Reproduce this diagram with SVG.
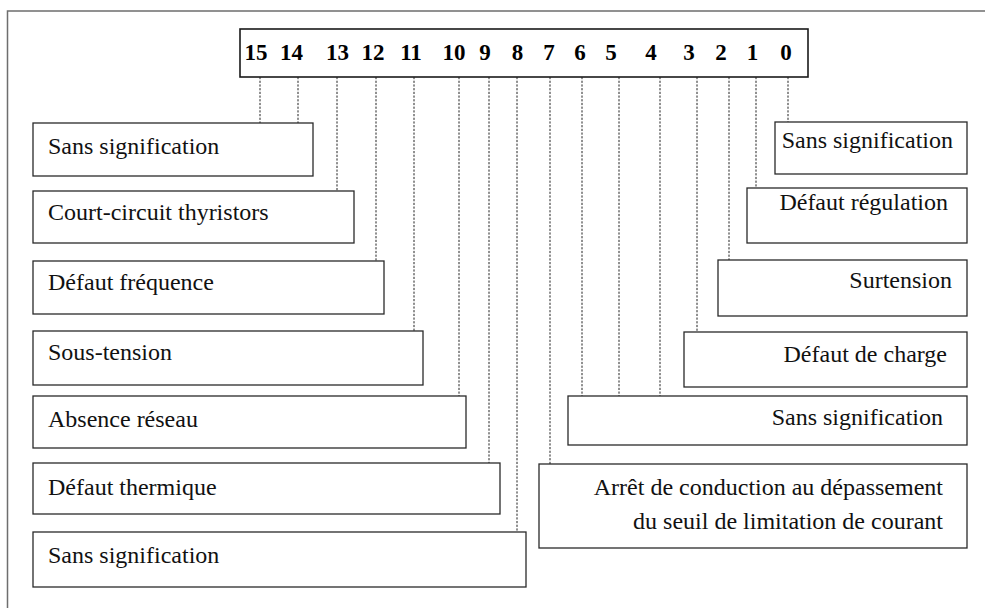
<svg xmlns="http://www.w3.org/2000/svg" width="985" height="608" viewBox="0 0 985 608">
<style>
.frame{fill:none;stroke:#6e6e6e;stroke-width:1.5}
.box{fill:#fff;stroke:#2a2a2a;stroke-width:1.3}
.reg{fill:#fff;stroke:#1a1a1a;stroke-width:1.6}
.bit{font-family:"Liberation Serif","Times New Roman",serif;font-weight:bold;font-size:23px;fill:#000;text-anchor:middle}
.lbl{font-family:"Liberation Serif","Times New Roman",serif;font-size:24px;fill:#111}
.r{text-anchor:end}
.dash{stroke:#222;stroke-width:1;stroke-dasharray:2.2 1.5;fill:none}
</style>
<rect x="0" y="0" width="985" height="608" fill="#fff"/>
<path class="frame" d="M986 11 H7.5 V609"/>

<g id="register">
<rect class="reg" x="240" y="29" width="568" height="48"/>
<text class="bit" y="60"><tspan x="256">15</tspan><tspan x="291.5">14</tspan><tspan x="337.5">13</tspan><tspan x="373">12</tspan><tspan x="411">11</tspan><tspan x="454">10</tspan><tspan x="485">9</tspan><tspan x="517.5">8</tspan><tspan x="549">7</tspan><tspan x="580">6</tspan><tspan x="611">5</tspan><tspan x="651">4</tspan><tspan x="689">3</tspan><tspan x="721">2</tspan><tspan x="752.5">1</tspan><tspan x="786">0</tspan></text>
</g>

<g id="connectors">
<line class="dash" x1="260" y1="77" x2="260" y2="123"/>
<line class="dash" x1="298" y1="77" x2="298" y2="123"/>
<line class="dash" x1="337" y1="77" x2="337" y2="191"/>
<line class="dash" x1="376" y1="77" x2="376" y2="261"/>
<line class="dash" x1="414" y1="77" x2="414" y2="331"/>
<line class="dash" x1="459" y1="77" x2="459" y2="396"/>
<line class="dash" x1="489" y1="77" x2="489" y2="463"/>
<line class="dash" x1="517" y1="77" x2="517" y2="532"/>
<line class="dash" x1="550" y1="77" x2="550" y2="464"/>
<line class="dash" x1="582" y1="77" x2="582" y2="396"/>
<line class="dash" x1="619" y1="77" x2="619" y2="396"/>
<line class="dash" x1="660" y1="77" x2="660" y2="396"/>
<line class="dash" x1="697" y1="77" x2="697" y2="332"/>
<line class="dash" x1="729" y1="77" x2="729" y2="260"/>
<line class="dash" x1="756" y1="77" x2="756" y2="188"/>
<line class="dash" x1="788" y1="77" x2="788" y2="122"/>
</g>

<g id="bits-15-14">
<rect class="box" x="33" y="123" width="280" height="53"/>
<text class="lbl" x="48" y="154">Sans signification</text>
</g>
<g id="bit-13">
<rect class="box" x="33" y="191" width="321" height="52"/>
<text class="lbl" x="48" y="220">Court-circuit thyristors</text>
</g>
<g id="bit-12">
<rect class="box" x="33" y="261" width="351" height="53"/>
<text class="lbl" x="48" y="290">Défaut fréquence</text>
</g>
<g id="bit-11">
<rect class="box" x="33" y="331" width="390" height="54"/>
<text class="lbl" x="48" y="360">Sous-tension</text>
</g>
<g id="bit-10">
<rect class="box" x="33" y="396" width="433" height="52"/>
<text class="lbl" x="48" y="427">Absence réseau</text>
</g>
<g id="bit-9">
<rect class="box" x="33" y="463" width="467" height="51"/>
<text class="lbl" x="48" y="495">Défaut thermique</text>
</g>
<g id="bit-8">
<rect class="box" x="33" y="532" width="493" height="55"/>
<text class="lbl" x="48" y="563">Sans signification</text>
</g>

<g id="bit-0">
<rect class="box" x="775" y="122" width="192" height="52"/>
<text class="lbl r" x="953" y="148">Sans signification</text>
</g>
<g id="bit-1">
<rect class="box" x="747" y="188" width="220" height="55"/>
<text class="lbl r" x="948" y="210">Défaut régulation</text>
</g>
<g id="bit-2">
<rect class="box" x="718" y="260" width="249" height="56"/>
<text class="lbl r" x="952" y="288">Surtension</text>
</g>
<g id="bit-3">
<rect class="box" x="684" y="332" width="283" height="55"/>
<text class="lbl r" x="947" y="362">Défaut de charge</text>
</g>
<g id="bits-6-5-4">
<rect class="box" x="568" y="396" width="399" height="49"/>
<text class="lbl r" x="943" y="425">Sans signification</text>
</g>
<g id="bit-7">
<rect class="box" x="539" y="464" width="428" height="84"/>
<text class="lbl r" x="943" y="495">Arrêt de conduction au dépassement</text>
<text class="lbl r" x="943" y="529">du seuil de limitation de courant</text>
</g>
</svg>
